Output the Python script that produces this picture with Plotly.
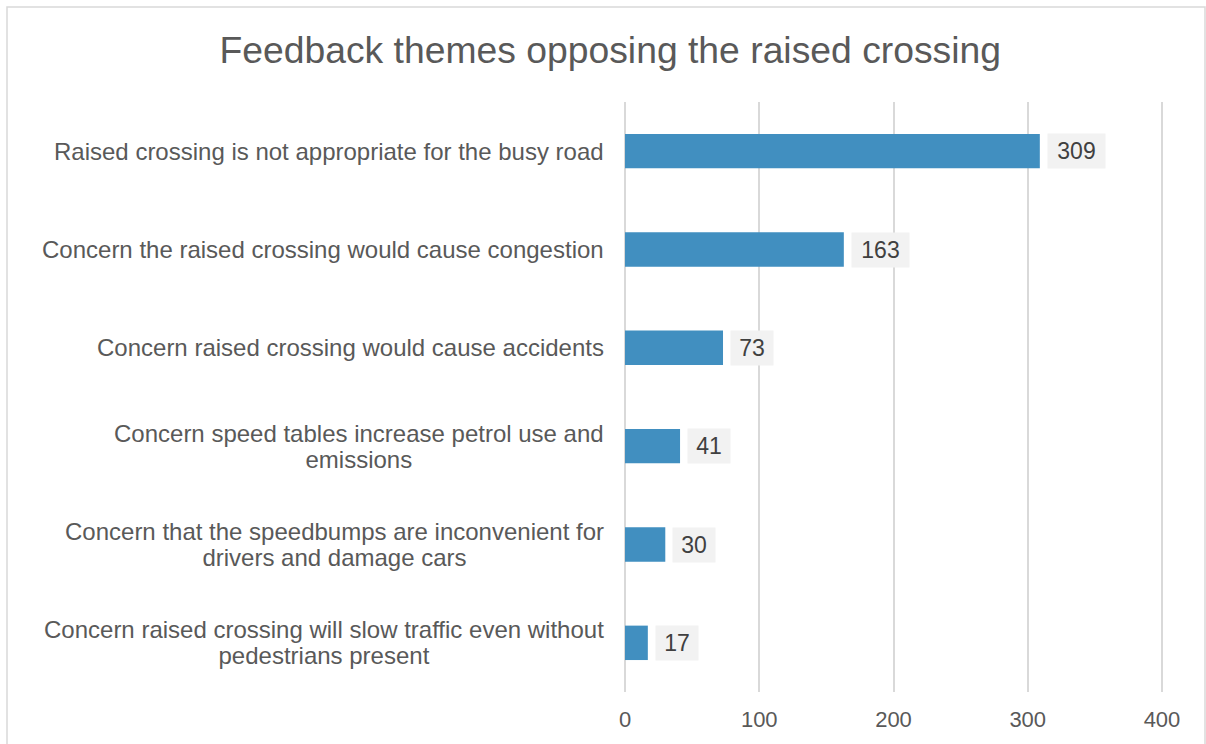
import plotly.graph_objects as go

categories = [
    "Raised crossing is not appropriate for the busy road",
    "Concern the raised crossing would cause congestion",
    "Concern raised crossing would cause accidents",
    "Concern speed tables increase petrol use and<br>emissions",
    "Concern that the speedbumps are inconvenient for<br>drivers and damage cars",
    "Concern raised crossing will slow traffic even without<br>pedestrians present",
]
values = [309, 163, 73, 41, 30, 17]
x_ticks = [0, 100, 200, 300, 400]

FONT = "Arial"
TEXT = "#595959"

L, R, T, B = 623, 42, 102, 52
PW = 1206 - L - R
PH = 744 - T - B


def px_x(p):
    return (p - L) / PW


def px_y(p):
    return 1 - (p - T) / PH


fig = go.Figure()
fig.add_trace(go.Bar(
    x=values,
    y=categories,
    orientation="h",
    marker=dict(color="#418fc0", line=dict(width=0)),
    hoverinfo="x",
))

# data labels in grey boxes
for c, v in zip(categories, values):
    fig.add_annotation(
        x=v, y=c, xref="x", yref="y",
        text=str(v),
        showarrow=False,
        xanchor="left",
        xshift=7,
        bgcolor="#f2f2f2",
        width=len(str(v)) * 15 + 4,
        height=26,
        borderpad=4,
        font=dict(family=FONT, size=23, color="#404040"),
    )

# category labels (centered lines, right-anchored block)
for c in categories:
    lines = c.split("<br>")
    txt = "<br>".join('<span style="font-size:24px">%s</span>' % ln for ln in lines)
    fig.add_annotation(
        x=0, y=c, xref="paper", yref="y",
        text=txt,
        showarrow=False,
        xanchor="right",
        yanchor="middle",
        align="center",
        xshift=-17,
        font=dict(family=FONT, size=20, color=TEXT),
    )

# outer chart border
fig.add_shape(
    type="rect", xref="paper", yref="paper",
    x0=px_x(7), x1=px_x(1205),
    y0=px_y(760), y1=px_y(7),
    line=dict(color="#d9d9d9", width=1.5),
    fillcolor="rgba(0,0,0,0)",
    layer="below",
)

fig.update_layout(
    width=1206, height=744,
    margin=dict(l=L, r=R, t=T, b=B),
    paper_bgcolor="white",
    plot_bgcolor="white",
    bargap=0.65,
    showlegend=False,
    title=dict(
        text="Feedback themes opposing the raised crossing",
        x=0.506, xanchor="center", xref="container",
        y=1 - 50 / 744, yanchor="middle", yref="container",
        font=dict(family=FONT, size=37.3, color=TEXT),
    ),
    font=dict(family=FONT, color=TEXT),
    xaxis=dict(
        range=[-1.5, 401.5],
        tickvals=x_ticks,
        showgrid=True,
        gridcolor="#d9d9d9",
        gridwidth=1.5,
        zeroline=True,
        zerolinecolor="#d9d9d9",
        zerolinewidth=1.5,
        showline=False,
        ticks="",
        ticklabelstandoff=12,
        tickfont=dict(family=FONT, size=22, color=TEXT),
    ),
    yaxis=dict(
        categoryorder="array",
        categoryarray=categories[::-1],
        showgrid=False,
        zeroline=False,
        showline=False,
        showticklabels=False,
        ticks="",
    ),
)

fig.write_html("out.html")
